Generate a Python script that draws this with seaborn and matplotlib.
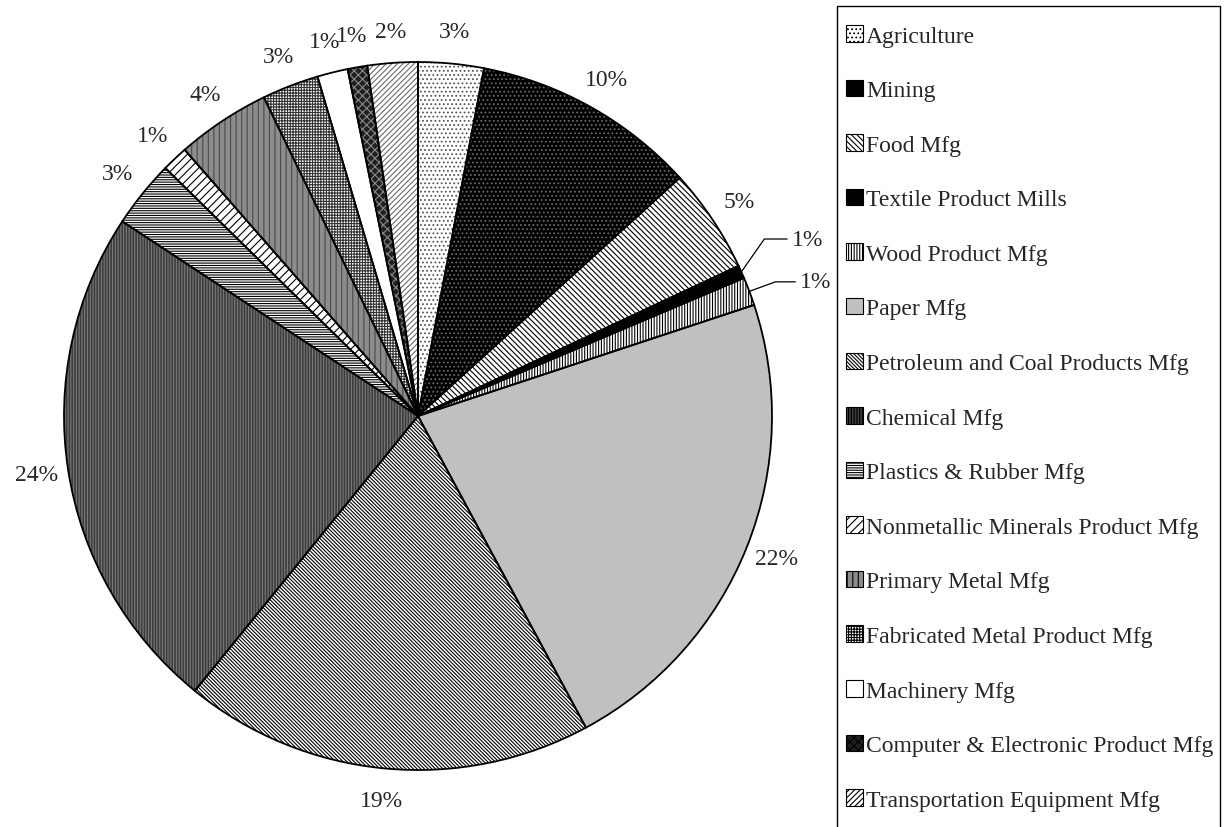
import numpy as np
import matplotlib
matplotlib.use("Agg")
import matplotlib.pyplot as plt
from matplotlib.patches import Rectangle, Patch
import seaborn as sns

# sector shares (%), clockwise from 12 o'clock
sectors = [
    "Agriculture",
    "Mining",
    "Food Mfg",
    "Textile Product Mills",
    "Wood Product Mfg",
    "Paper Mfg",
    "Petroleum and Coal Products Mfg",
    "Chemical Mfg",
    "Plastics & Rubber Mfg",
    "Nonmetallic Minerals Product Mfg",
    "Primary Metal Mfg",
    "Fabricated Metal Product Mfg",
    "Machinery Mfg",
    "Computer & Electronic Product Mfg",
    "Transportation Equipment Mfg",
]
shares = [3.0, 10.3, 4.8, 0.6, 1.3, 22.3, 18.8, 23.5, 3.1, 1.2, 4.3, 2.6, 1.4, 0.9, 2.3]
pct_labels = ["3%", "10%", "5%", "1%", "1%", "22%", "19%", "24%",
              "3%", "1%", "4%", "3%", "1%", "1%", "2%"]

# Excel-like monochrome fills: (face, hatch, hatch colour)
fills = [
    ("white", "....", "#555555"),
    ("black", "....", "#6a6a6a"),
    ("white", "\\\\\\\\\\\\", "black"),
    ("black", "", "black"),
    ("white", "||||||", "black"),
    ("#c0c0c0", "", "#c0c0c0"),
    ("white", "\\\\\\\\\\\\\\\\\\", "black"),
    ("#3c3c3c", "||||||", "#7a7a7a"),
    ("white", "-------", "black"),
    ("white", "////", "black"),
    ("#8c8c8c", "|||", "#4a4a4a"),
    ("white", "++++++", "#333333"),
    ("white", "", "white"),
    ("#202020", "xxxx", "#8a8a8a"),
    ("white", "//////", "#6a6a6a"),
]

sns.set_theme(style="white")
plt.rcParams["font.family"] = ["Liberation Serif", "DejaVu Serif"]
plt.rcParams["hatch.linewidth"] = 0.8

fig = plt.figure(figsize=(12.25, 8.28), dpi=100)
ax = fig.add_axes([64 / 1225, 57 / 828, 708 / 1225, 708 / 828])

wedges, _ = ax.pie(shares, startangle=90, counterclock=False, radius=1.0,
                   wedgeprops=dict(linewidth=0))
for w, (fc, hatch, hc) in zip(wedges, fills):
    w.set_facecolor(fc)
    w.set_hatch(hatch)
    w.set_edgecolor(hc)

# black outlines on top
outl, _ = ax.pie(shares, startangle=90, counterclock=False, radius=1.0,
                 wedgeprops=dict(fill=False, edgecolor="black", linewidth=1.3))

ax.set_xlim(-1, 1)
ax.set_ylim(-1, 1)
ax.set_aspect("auto")
ax.axis("off")

leader = {
    3: dict(xytext=(1.056, 0.50), angleB=55),
    4: dict(xytext=(1.079, 0.379), angleB=20),
}
fs = 17
for i, w in enumerate(wedges):
    mid = np.deg2rad((w.theta1 + w.theta2) / 2)
    if i in leader:
        xy = (np.cos(mid), np.sin(mid))
        ax.annotate(pct_labels[i], xy=xy, xytext=leader[i]["xytext"],
                    ha="left", va="center", fontsize=fs,
                    arrowprops=dict(arrowstyle="-", color="black", lw=0.9,
                                    shrinkA=1, shrinkB=0,
                                    connectionstyle="angle,angleA=0,angleB=%d,rad=0" % leader[i]["angleB"]))
    else:
        r = 1.09
        ax.text(r * np.cos(mid), r * np.sin(mid), pct_labels[i],
                ha="center", va="center", fontsize=fs)

# legend box (runs off the bottom edge, as in the source)
fig.patches.append(Rectangle((837 / 1225, -0.02), (1220 - 837) / 1225, (828 - 7) / 828 + 0.02,
                             transform=fig.transFigure, fill=False,
                             edgecolor="black", linewidth=1.0))
handles = [Patch(facecolor=fc, hatch=h, edgecolor=hc if h else "black", linewidth=0.8)
           for fc, h, hc in fills]
leg = fig.legend(handles, sectors, loc="upper left", bbox_to_anchor=(846 / 1225, 1 - 26 / 828),
                 frameon=False, fontsize=fs, handlelength=0.7, handleheight=0.7,
                 handletextpad=0.15, labelspacing=1.40, borderpad=0, borderaxespad=0)
for h in leg.legend_handles:
    h.set_edgecolor("black")

fig.savefig("out.png", dpi=100)
